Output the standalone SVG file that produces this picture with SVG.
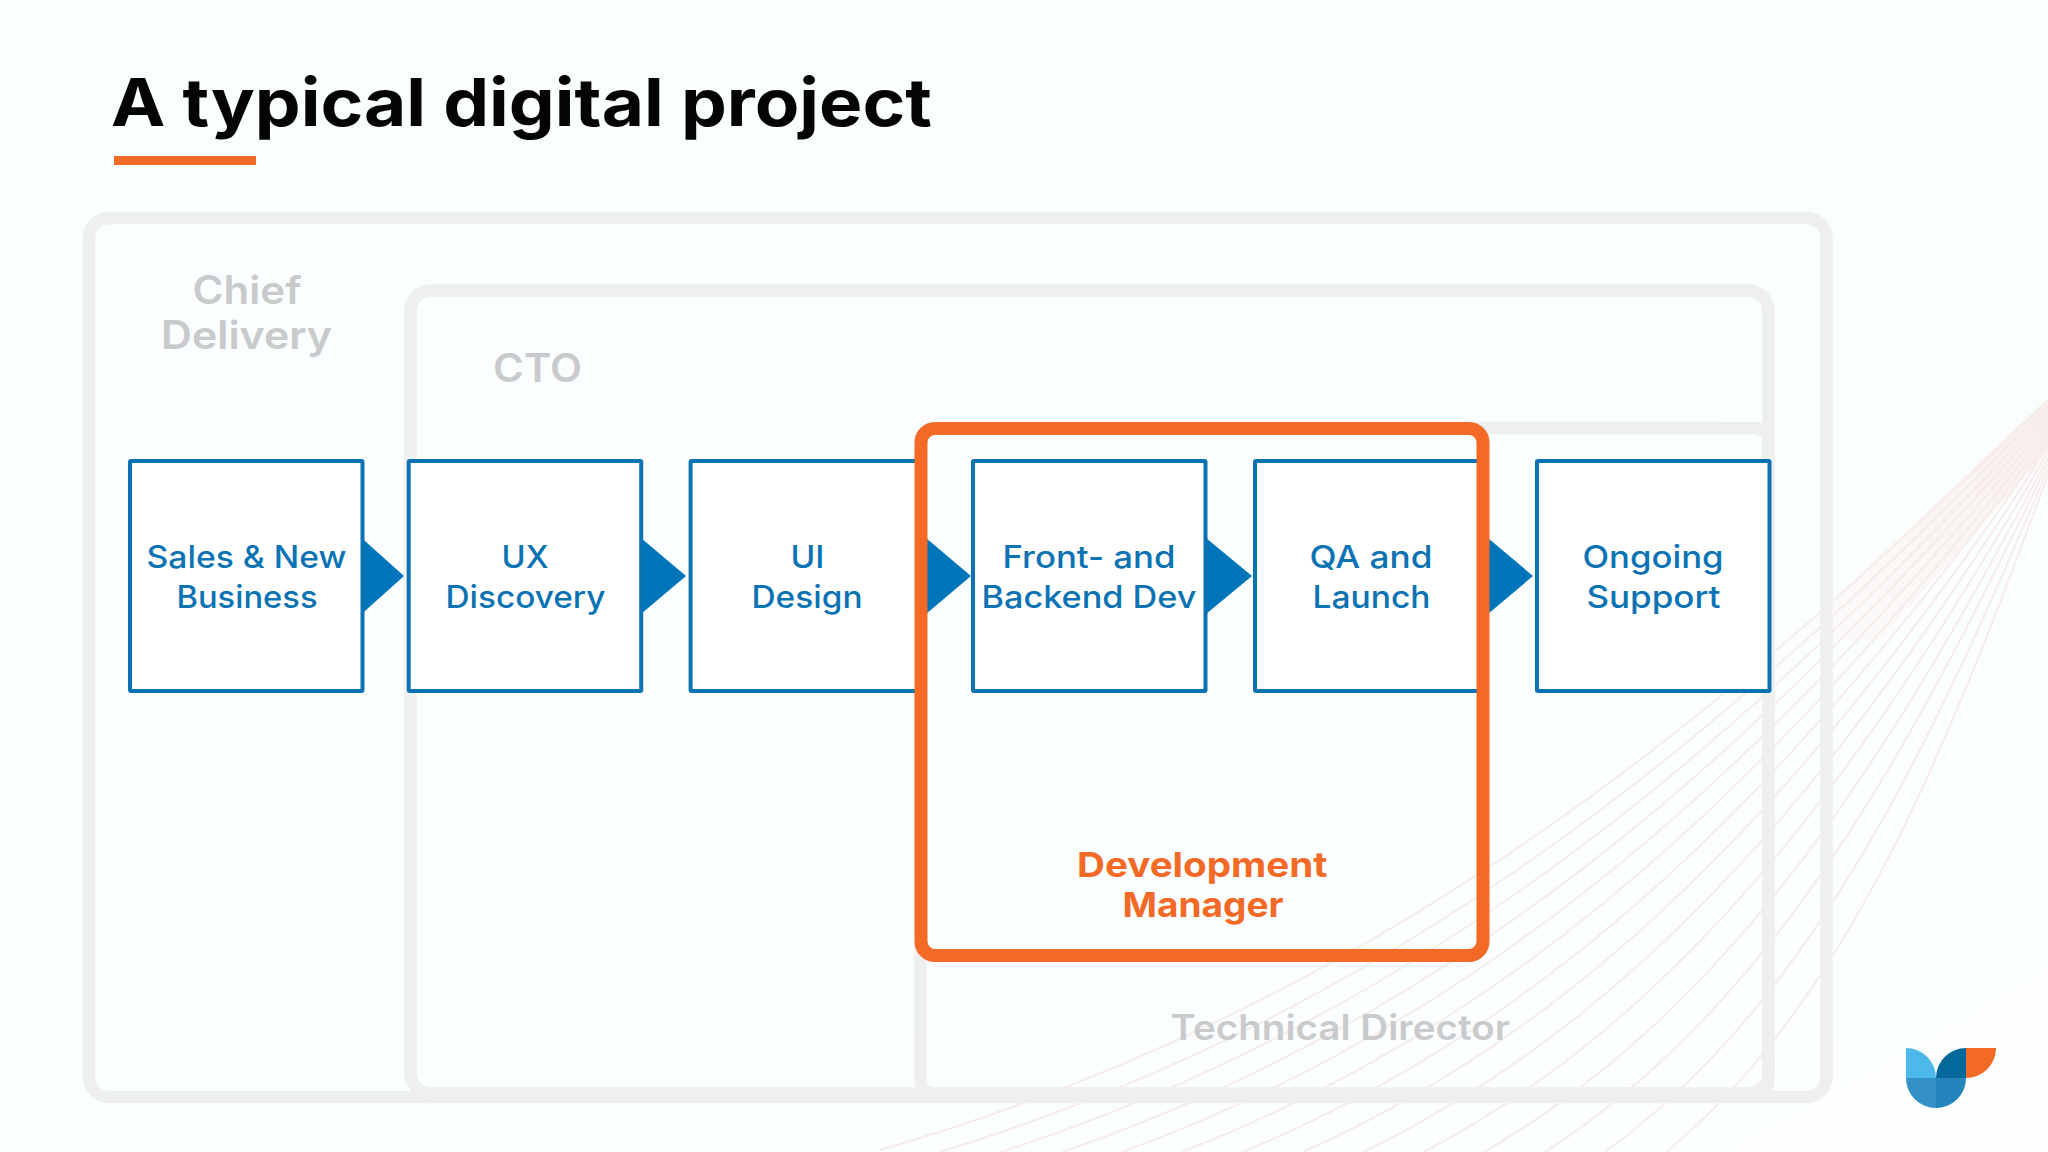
<svg xmlns="http://www.w3.org/2000/svg" width="2048" height="1152" viewBox="0 0 2048 1152">
<style>
text{font-family:"Inter","Liberation Sans",sans-serif}
.title{font-size:66px;font-weight:700;fill:#040404}
.lbl{font-size:31px;font-weight:500;fill:#0b73b3}
.box{fill:#fff;stroke:#0b73b3;stroke-width:4;stroke-linejoin:round}
.arr{fill:#0075b9}
.frame{fill:none;stroke:#eeefef;stroke-width:12.5}
.role{font-size:39px;font-weight:600;fill:#c9cacb}
.dm{font-size:34px;font-weight:700;fill:#f26a25}
.bg path{fill:none;stroke:#f6ecea;stroke-width:2}
</style>
<defs>
<linearGradient id="bg" x1="0" y1="0" x2="1" y2="1"><stop offset="0" stop-color="#f9fefe"/><stop offset="1" stop-color="#fcfeff"/></linearGradient>
<linearGradient id="wedge" x1="1" y1="0" x2="0" y2="1"><stop offset="0" stop-color="#f8efec"/><stop offset="1" stop-color="#fbfcfc"/></linearGradient>
</defs>
<rect width="2048" height="1152" fill="url(#bg)"/>
<path d="M2048,398L1790,640L1880,640L2048,450Z" fill="url(#wedge)"/>
<g class="bg">
<path d="M2048,400C1750,690 1400,1000 880,1150"/>
<path d="M2048,406C1765,694 1435,1000 940,1152"/>
<path d="M2048,412C1781,698 1469,1000 1001,1152"/>
<path d="M2048,417C1796,702 1504,1000 1062,1152"/>
<path d="M2048,423C1812,705 1539,1000 1122,1152"/>
<path d="M2048,429C1827,709 1573,1000 1182,1152"/>
<path d="M2048,435C1842,713 1608,1000 1243,1152"/>
<path d="M2048,440C1858,717 1642,1000 1303,1152"/>
<path d="M2048,446C1873,721 1677,1000 1363,1152"/>
<path d="M2048,452C1888,725 1711,1000 1424,1152"/>
<path d="M2048,458C1904,728 1746,1000 1484,1152"/>
<path d="M2048,463C1919,732 1781,1000 1545,1152"/>
<path d="M2048,469C1935,736 1815,1000 1605,1152"/>
<path d="M2048,475C1950,740 1850,1000 1666,1152"/>
</g>
<g id="title">
<text class="title" x="111" y="126" textLength="821" lengthAdjust="spacingAndGlyphs">A typical digital project</text>
<rect x="114" y="156" width="142" height="9" fill="#f26a25"/>
</g>
<g id="chief-delivery">
<rect class="frame" x="89" y="218" width="1737.5" height="879" rx="20"/>
<text class="role" x="192.5" y="304" textLength="109" lengthAdjust="spacingAndGlyphs">Chief</text>
<text class="role" x="161" y="349" textLength="171" lengthAdjust="spacingAndGlyphs">Delivery</text>
</g>
<g id="cto">
<rect class="frame" x="410.5" y="290.5" width="1358" height="803" rx="20"/>
<text class="role" x="493" y="382" textLength="89" lengthAdjust="spacingAndGlyphs">CTO</text>
</g>
<g id="technical-director">
<rect class="frame" x="920.5" y="428" width="848" height="666" rx="14"/>
<text class="role" style="font-size:35px" x="1170.5" y="1040" textLength="339.5" lengthAdjust="spacingAndGlyphs">Technical Director</text>
</g>
<g id="connectors">
<path class="arr" d="M356,533L404,576L356,619Z"/>
<path class="arr" d="M635,533L686,576L635,619Z"/>
<path class="arr" d="M920,533L971,576L920,619Z"/>
<path class="arr" d="M1200,533L1252,576L1200,619Z"/>
<path class="arr" d="M1482,533L1533,576L1482,619Z"/>
</g>
<g id="sales">
<rect class="box" x="130" y="461" width="232.5" height="230" rx="1"/>
<text class="lbl" x="146.5" y="568" textLength="200" lengthAdjust="spacingAndGlyphs">Sales &amp; New</text>
<text class="lbl" x="176.5" y="608" textLength="141" lengthAdjust="spacingAndGlyphs">Business</text>
</g>
<g id="ux">
<rect class="box" x="408.7" y="461" width="232.5" height="230" rx="1"/>
<text class="lbl" x="501.5" y="568" textLength="47" lengthAdjust="spacingAndGlyphs">UX</text>
<text class="lbl" x="445.5" y="608" textLength="160" lengthAdjust="spacingAndGlyphs">Discovery</text>
</g>
<g id="ui">
<rect class="box" x="690.6" y="461" width="228" height="230" rx="1"/>
<text class="lbl" x="790.5" y="568" textLength="34" lengthAdjust="spacingAndGlyphs">UI</text>
<text class="lbl" x="751.5" y="608" textLength="111" lengthAdjust="spacingAndGlyphs">Design</text>
</g>
<g id="dev">
<rect class="box" x="973" y="461" width="232.5" height="230" rx="1"/>
<text class="lbl" x="1002.5" y="568" textLength="173" lengthAdjust="spacingAndGlyphs">Front- and</text>
<text class="lbl" x="981.5" y="608" textLength="215" lengthAdjust="spacingAndGlyphs">Backend Dev</text>
</g>
<g id="qa">
<rect class="box" x="1255" y="461" width="225" height="230" rx="1"/>
<text class="lbl" x="1309.5" y="568" textLength="123" lengthAdjust="spacingAndGlyphs">QA and</text>
<text class="lbl" x="1312.5" y="608" textLength="118" lengthAdjust="spacingAndGlyphs">Launch</text>
</g>
<g id="support">
<rect class="box" x="1537" y="461" width="232.5" height="230" rx="1"/>
<text class="lbl" x="1582.5" y="568" textLength="141" lengthAdjust="spacingAndGlyphs">Ongoing</text>
<text class="lbl" x="1586.5" y="608" textLength="134" lengthAdjust="spacingAndGlyphs">Support</text>
</g>
<g id="development-manager">
<rect x="921" y="428.5" width="562" height="527" rx="14" fill="none" stroke="#f26a25" stroke-width="13"/>
<text class="dm" x="1077" y="877" textLength="250.5" lengthAdjust="spacingAndGlyphs">Development</text>
<text class="dm" x="1122.5" y="917" textLength="161" lengthAdjust="spacingAndGlyphs">Manager</text>
</g>
<g id="logo">
<path d="M1906,1048A30,30 0 0 1 1936,1078H1906Z" fill="#4db8ea"/>
<path d="M1936,1078A30,30 0 0 1 1966,1048V1078Z" fill="#04689b"/>
<path d="M1966,1048H1996A30,30 0 0 1 1966,1078Z" fill="#f26a25"/>
<path d="M1906,1078H1936V1108A30,30 0 0 1 1906,1078Z" fill="#3391c8"/>
<path d="M1936,1078H1966A30,30 0 0 1 1936,1108Z" fill="#2584bb"/>
</g>
</svg>
